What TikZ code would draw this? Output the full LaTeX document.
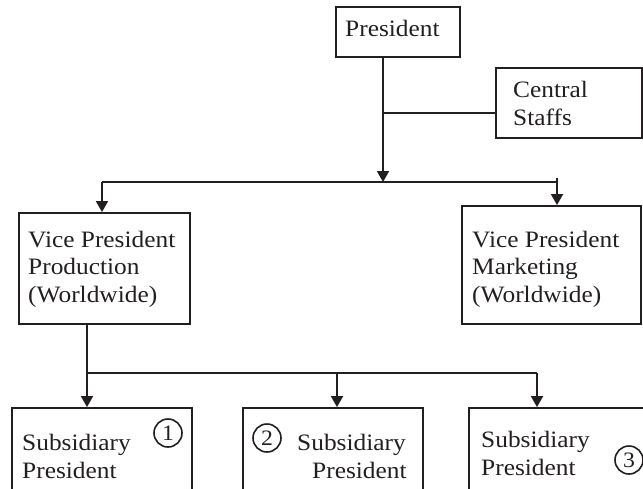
\documentclass[tikz,border=0pt]{standalone}
\usepackage{fontspec}
\setmainfont{Liberation Serif}[FakeStretch=1.08]
\usetikzlibrary{arrows.meta}
\definecolor{ink}{HTML}{231F20}
\begin{document}
\begin{tikzpicture}[x=1pt,y=-1pt,
  box/.style={draw=ink, line width=1.8pt, rectangle, inner sep=0pt},
  lbl/.style={anchor=base west, inner sep=0pt, text=ink,
    font=\fontsize{23.5}{27.5}\selectfont, align=left},
  num/.style={draw=ink, line width=1.6pt, circle, inner sep=0pt,
    minimum size=28pt, text=ink, font=\fontsize{22}{22}\selectfont},
  link/.style={draw=ink, line width=1.8pt},
  arr/.style={link, -{Triangle[width=12pt,length=11pt]}}]
\useasboundingbox (0,0) rectangle (643,488);
\clip (0,0) rectangle (643,488);

% boxes
\node[box, minimum width=124pt, minimum height=50pt] (pres) at (398,32) {};
\node[box, minimum width=146pt, minimum height=70pt] (staff) at (569,103) {};
\node[box, minimum width=171pt, minimum height=111pt] (vpp) at (104.5,268.5) {};
\node[box, minimum width=179pt, minimum height=118pt] (vpm) at (551.5,265) {};
\node[box, minimum width=180pt, minimum height=100pt] (s1) at (102,458) {};
\node[box, minimum width=180pt, minimum height=100pt] (s2) at (333,458) {};
\node[box, minimum width=180pt, minimum height=100pt] (s3) at (559,458) {};

% texts (anchored at the baseline of their last line)
\node[lbl] (tpres) at (345,36) {President};
\node[lbl] (tstaff) at (513,125) {Central\\Staffs};
\node[lbl] (tvpp) at (28,302) {Vice President\\Production\\(Worldwide)};
\node[lbl] (tvpm) at (472,302) {Vice President\\Marketing\\(Worldwide)};
\node[lbl] (ts1) at (22,478) {Subsidiary\\President};
\node[lbl] (ts2a) at (297,450) {Subsidiary};
\node[lbl] (ts2b) at (312,478) {President};
\node[lbl] (ts3) at (481,475) {Subsidiary\\President};

% circled numbers
\node[num] (n1) at (168,433) {1};
\node[num] (n2) at (267,438) {2};
\node[num] (n3) at (629,460) {3};

% junction points
\coordinate (hub) at (383,182);
\coordinate (bl) at (102,182);
\coordinate (br) at (557,182);
\coordinate (brt) at (557,178);
\coordinate (drop) at (87,324);
\coordinate (sub) at (87,373);
\coordinate (sm) at (337,373);
\coordinate (sr) at (537,373);

% president to vice presidents
\draw[arr] (pres.south -| hub) -- (hub);
\draw[link] ([yshift=-10pt]staff.west) -- ([yshift=-10pt]staff.west -| hub);
\draw[link] (bl) -- (br);
\draw[arr] (bl) -- (bl |- vpp.north);
\draw[arr] (brt) -- (brt |- vpm.north);

% production to subsidiaries
\draw[link] (vpp.south -| drop) -- (sub);
\draw[arr] (sub) -- (sub |- s1.north);
\draw[link] (sub) -- (sr);
\draw[arr] (sm) -- (sm |- s2.north);
\draw[arr] (sr) -- (sr |- s3.north);
\end{tikzpicture}
\end{document}
